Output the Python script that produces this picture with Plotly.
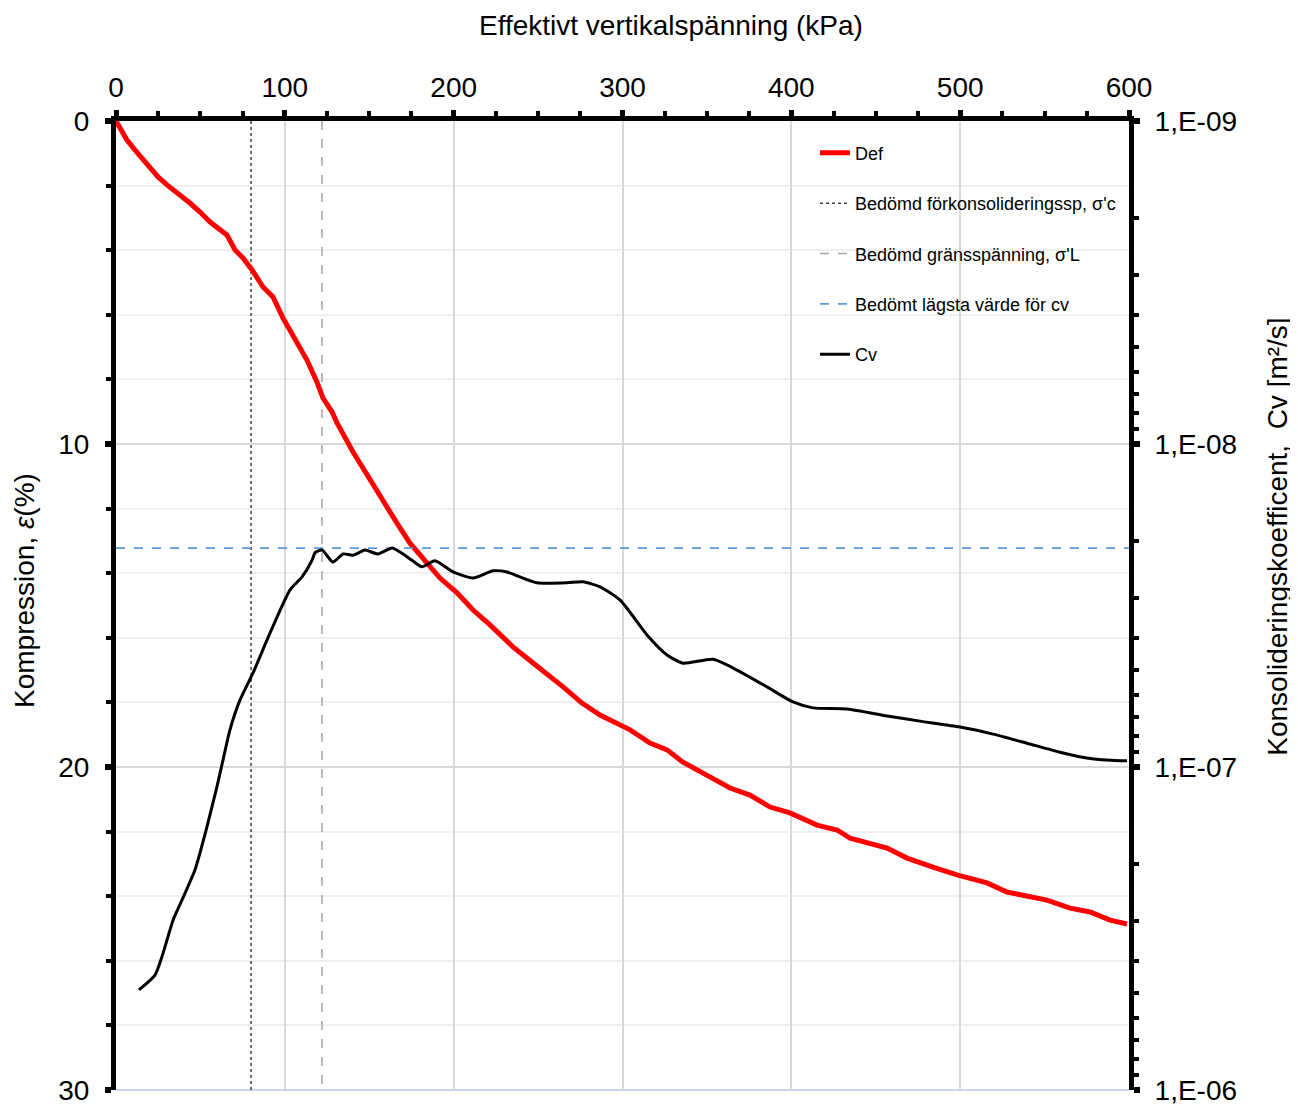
import plotly.graph_objects as go

# Kompression (Def) mot effektiv vertikalspänning
def_stress = [0, 6.5, 11.3, 18.4, 24.9, 30.2, 36.7, 43.8, 49.8, 55.7, 65.7, 70.5,
              75.2, 80.6, 87.1, 93.0, 98.9, 106.0, 113.1, 119.0, 122.6, 128.0,
              130.9, 140.4, 150.4, 159.3, 166.4, 174.1, 184.2, 191.9, 202.0,
              211.5, 221.5, 235.1, 247.0, 258.8, 264.8, 276.0, 286.7, 304.5,
              316.3, 326.4, 335.8, 347.7, 363.7, 375.5, 387.4, 399.2, 415.2,
              427.1, 434.8, 456.7, 468.5, 483.9, 498.1, 515.9, 527.7, 551.4,
              565.1, 576.9, 588.8, 598.8]
def_strain = [0, 0.59, 0.90, 1.36, 1.73, 1.98, 2.23, 2.54, 2.82, 3.13, 3.53, 3.99,
              4.24, 4.61, 5.14, 5.45, 6.10, 6.78, 7.40, 8.08, 8.58, 9.01,
              9.35, 10.25, 11.11, 11.89, 12.45, 13.07, 13.65, 14.15, 14.61,
              15.14, 15.60, 16.28, 16.78, 17.24, 17.52, 18.02, 18.39, 18.85,
              19.26, 19.47, 19.85, 20.19, 20.65, 20.87, 21.24, 21.42, 21.80,
              21.95, 22.20, 22.51, 22.82, 23.10, 23.34, 23.59, 23.87, 24.12,
              24.37, 24.49, 24.74, 24.86]

# Konsolideringskoefficient Cv
cv_stress = [13.6, 23.1, 27.2, 33.8, 39.1, 46.8, 53.9, 59.8, 63.4, 67.5, 73.4,
             81.1, 91.2, 103.1, 110.2, 116.1, 117.9, 122.0, 128.5, 134.5, 140.4,
             147.5, 155.2, 163.5, 168.2, 175.3, 181.2, 188.9, 199.6, 211.5,
             223.3, 231.6, 239.3, 249.4, 267.1, 276.6, 286.7, 298.5, 314.5,
             326.4, 335.8, 353.6, 367.8, 385.6, 401.0, 412.8, 433.0, 456.7,
             476.2, 499.9, 519.5, 539.6, 559.1, 575.1, 594.7, 598.8]
cv_values = [4.90e-7, 4.41e-7, 3.87e-7, 2.98e-7, 2.58e-7, 2.08e-7, 1.53e-7,
             1.15e-7, 9.5e-8, 7.67e-8, 6.21e-8, 5.12e-8, 3.85e-8, 2.83e-8,
             2.58e-8, 2.29e-8, 2.17e-8, 2.13e-8, 2.32e-8, 2.19e-8, 2.21e-8,
             2.13e-8, 2.19e-8, 2.10e-8, 2.16e-8, 2.29e-8, 2.40e-8, 2.30e-8,
             2.49e-8, 2.60e-8, 2.47e-8, 2.49e-8, 2.58e-8, 2.69e-8, 2.69e-8,
             2.67e-8, 2.77e-8, 3.04e-8, 3.90e-8, 4.50e-8, 4.77e-8, 4.64e-8,
             5.01e-8, 5.65e-8, 6.29e-8, 6.56e-8, 6.61e-8, 6.95e-8, 7.21e-8,
             7.52e-8, 7.91e-8, 8.44e-8, 9.0e-8, 9.38e-8, 9.57e-8, 9.57e-8]

sigma_c = 80      # bedömd förkonsolideringsspänning
sigma_L = 122     # bedömd gränsspänning
cv_min = 2.10e-8  # bedömt lägsta värde för cv

x_ticks = [0, 100, 200, 300, 400, 500, 600]
cv_ticks = [1e-9, 1e-8, 1e-7, 1e-6]
cv_labels = ["1,E-09", "1,E-08", "1,E-07", "1,E-06"]

FONT = "Arial, Liberation Sans, sans-serif"

fig = go.Figure()

fig.add_trace(go.Scatter(
    x=[sigma_c, sigma_c], y=[0, 30], mode="lines",
    line=dict(color="#404040", width=1.5, dash="dot"),
    name="Bedömd förkonsolideringssp, σ'c", legendrank=2, legendgroup="b",
))
fig.add_trace(go.Scatter(
    x=[sigma_L, sigma_L], y=[0, 30], mode="lines",
    line=dict(color="#a6a6a6", width=1.5, dash="dash"),
    name="Bedömd gränsspänning, σ'L", legendrank=3, legendgroup="c",
))
fig.add_trace(go.Scatter(
    x=[0, 600], y=[cv_min, cv_min], mode="lines", yaxis="y2",
    line=dict(color="#5b9bd5", width=1.8, dash="dash"),
    name="Bedömt lägsta värde för cv", legendrank=4, legendgroup="d",
))
fig.add_trace(go.Scatter(
    x=cv_stress, y=cv_values, mode="lines", yaxis="y2",
    line=dict(color="black", width=3, shape="spline", smoothing=0.6),
    name="Cv", legendrank=5, legendgroup="e",
))
fig.add_trace(go.Scatter(
    x=def_stress, y=def_strain, mode="lines",
    line=dict(color="#ff0000", width=5),
    name="Def", legendrank=1, legendgroup="a",
))

title_font = dict(family=FONT, size=28, color="black")

# the page body adds an 8 px margin, so the figure is 8 px smaller each way
fig.update_layout(
    width=1290, height=1096,
    margin=dict(l=108, r=169, t=113, b=14),
    paper_bgcolor="white", plot_bgcolor="white",
    font=dict(family=FONT, color="black", size=28),
    legend=dict(
        x=0.690, y=0.986, xanchor="left", yanchor="top",
        font=dict(size=18, family=FONT), bgcolor="rgba(0,0,0,0)",
        tracegroupgap=24, traceorder="grouped",
    ),
    xaxis=dict(
        side="top", range=[0, 600], tickvals=x_ticks, automargin=False,
        showgrid=True, gridcolor="#d9d9d9", gridwidth=1.5, zeroline=False,
        showline=True, linecolor="black", linewidth=5,
        ticks="outside", ticklen=6, tickwidth=5, tickcolor="black",
        tickfont=dict(size=28), ticklabelstandoff=2, ticklabeloverflow="allow",
        minor=dict(dtick=25, ticks="outside", ticklen=5, tickwidth=4,
                   tickcolor="black", showgrid=False),
    ),
    yaxis=dict(
        range=[30, 0], tickvals=[0, 10, 20, 30], automargin=False,
        showgrid=True, gridcolor="#d9d9d9", gridwidth=1.5, zeroline=False,
        showline=True, linecolor="black", linewidth=5,
        ticks="outside", ticklen=6, tickwidth=6, tickcolor="black",
        tickfont=dict(size=28), ticklabelstandoff=10, ticklabeloverflow="allow",
        minor=dict(dtick=2, ticks="outside", ticklen=5, tickwidth=4,
                   tickcolor="black", showgrid=True, gridcolor="#efefef",
                   gridwidth=1.5),
    ),
    yaxis2=dict(
        type="log", range=[-6, -9], overlaying="y", side="right", anchor="x",
        tickvals=cv_ticks, ticktext=cv_labels, automargin=False,
        showgrid=False, zeroline=False,
        showline=True, linecolor="black", linewidth=5,
        ticks="outside", ticklen=6, tickwidth=6, tickcolor="black",
        tickfont=dict(size=28), ticklabelstandoff=9, ticklabeloverflow="allow",
        minor=dict(tickvals=[m * d for d in cv_ticks[:3] for m in range(2, 10)],
                   ticks="outside", ticklen=5, tickwidth=4, tickcolor="black"),
    ),
    annotations=[
        dict(text="Effektivt vertikalspänning (kPa)", xref="paper", yref="paper",
             x=0.548, y=1, xanchor="center", yanchor="middle", yshift=96,
             showarrow=False, font=title_font),
        dict(text="Kompression, <i>ε</i>(%)", xref="paper", yref="paper",
             x=0, y=0.515, xanchor="center", yanchor="middle", xshift=-91,
             textangle=-90, showarrow=False, font=title_font),
        dict(text="Konsolideringskoefficent,  Cv [m²/s]", xref="paper",
             yref="paper", x=1, y=0.571, xanchor="center", yanchor="middle",
             xshift=149, textangle=-90, showarrow=False, font=title_font),
    ],
    shapes=[dict(type="line", xref="paper", yref="paper", x0=0, x1=1, y0=0, y1=0,
                 line=dict(color="#c5d9f1", width=2), layer="below")],
)

fig.write_html("out.html")
